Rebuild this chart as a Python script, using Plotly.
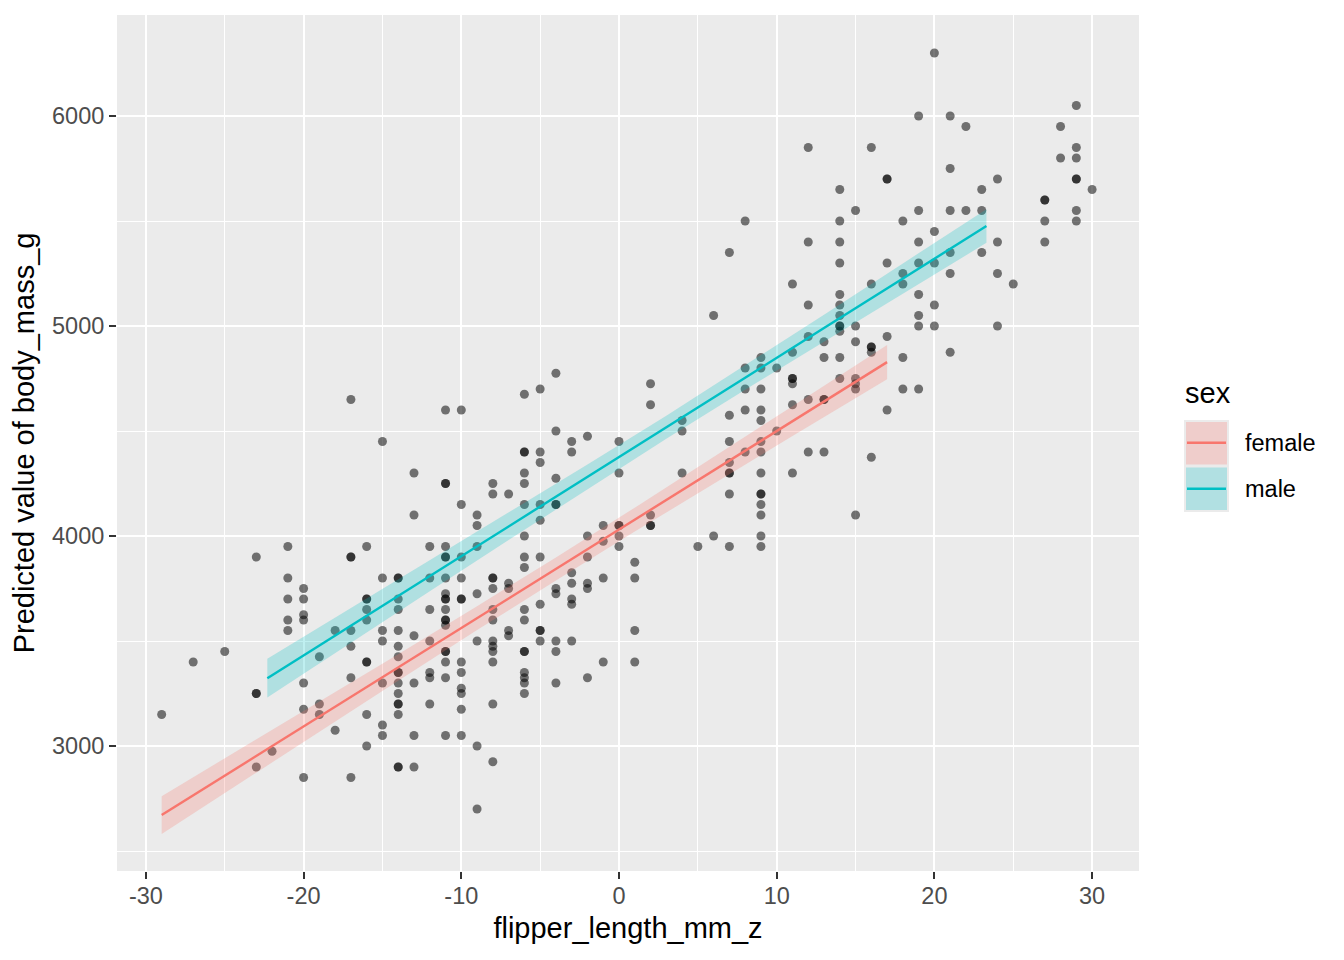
import plotly.graph_objects as go

# ---------------- data ----------------
# observed points: flipper_length_mm_z column value -> body_mass_g values in that column
flipper_cols = [-29, -27, -25, -23, -22, -21, -20, -19, -18, -17, -16, -15, -14, -13, -12,
                -11, -10, -9, -8, -7, -6, -5, -4, -3, -2, -1, 0, 1, 2, 4, 5, 6, 7, 8, 9,
                10, 11, 12, 13, 14, 15, 16, 17, 18, 19, 20, 21, 22, 23, 24, 25, 27, 28, 29, 30]
mass_cols = [
    [3150],
    [3400],
    [3450],
    [3900, 3250, 3250, 2900],
    [2975],
    [3950, 3800, 3700, 3600, 3550],
    [3750, 3700, 3625, 3600, 3300, 3175, 2850],
    [3425, 3200, 3150],
    [3550, 3075],
    [4650, 3900, 3900, 3550, 3475, 3325, 2850],
    [3950, 3700, 3700, 3650, 3600, 3400, 3400, 3150, 3000],
    [4450, 3800, 3550, 3500, 3300, 3100, 3050],
    [3800, 3800, 3700, 3650, 3550, 3475, 3425, 3350, 3350, 3300, 3250, 3200, 3200, 3150, 2900, 2900],
    [4300, 4100, 3525, 3300, 3050, 2900],
    [3950, 3800, 3650, 3500, 3350, 3325, 3200],
    [4600, 4250, 4250, 3950, 3900, 3900, 3800, 3725, 3700, 3700, 3650, 3600, 3600, 3575, 3450, 3450, 3400, 3325, 3050],
    [4600, 4150, 3900, 3800, 3700, 3700, 3400, 3350, 3275, 3250, 3175, 3050],
    [4100, 4050, 3950, 3725, 3500, 3000, 2700],
    [4250, 4200, 3800, 3800, 3750, 3650, 3600, 3500, 3475, 3450, 3400, 3200, 2925],
    [4200, 3775, 3750, 3550, 3525],
    [4675, 4400, 4400, 4300, 4250, 4150, 4000, 3900, 3850, 3650, 3600, 3450, 3450, 3350, 3325, 3300, 3250],
    [4700, 4400, 4350, 4150, 4075, 3900, 3675, 3550, 3550, 3500],
    [4775, 4500, 4275, 4150, 4150, 3750, 3725, 3500, 3450, 3300],
    [4450, 4400, 3825, 3775, 3700, 3675, 3500],
    [4475, 4000, 3900, 3775, 3750, 3325],
    [4050, 3975, 3800, 3400],
    [4450, 4300, 4050, 4050, 4000, 3950],
    [3875, 3800, 3550, 3400],
    [4725, 4625, 4100, 4050, 4050],
    [4550, 4500, 4300],
    [3950],
    [5050, 4000],
    [5350, 4575, 4450, 4350, 4300, 4300, 4200, 3950],
    [5500, 4800, 4700, 4600, 4400],
    [4850, 4800, 4700, 4600, 4550, 4450, 4400, 4300, 4200, 4200, 4150, 4100, 4000, 3950],
    [4800, 4500],
    [5200, 4875, 4750, 4750, 4725, 4625, 4300],
    [5850, 5400, 5100, 4950, 4650, 4400],
    [4925, 4850, 4650, 4650, 4400],
    [5650, 5500, 5400, 5300, 5150, 5100, 5050, 5000, 5000, 4975, 4850, 4750],
    [5550, 5000, 4925, 4750, 4725, 4700, 4100],
    [5850, 5200, 4900, 4900, 4875, 4375],
    [5700, 5700, 5300, 4950, 4600],
    [5500, 5250, 5200, 4850, 4700],
    [6000, 5550, 5400, 5300, 5150, 5050, 5000, 4700],
    [6300, 5450, 5300, 5100, 5000],
    [6000, 5750, 5550, 5350, 5250, 4875],
    [5950, 5550],
    [5650, 5550, 5350],
    [5700, 5400, 5250, 5000],
    [5200],
    [5600, 5600, 5500, 5400],
    [5950, 5800],
    [6050, 5850, 5800, 5700, 5700, 5550, 5500],
    [5650],
]

# predicted values with confidence band
female_x = [-29, -24, -19, -14, -9, -4, 1, 6, 11, 17]
female_pred = [2671, 2905, 3140, 3374, 3609, 3843, 4078, 4312, 4547, 4828]
female_lo = [2581, 2825, 3069, 3311, 3552, 3788, 4021, 4249, 4476, 4746]
female_hi = [2761, 2985, 3211, 3437, 3666, 3898, 4135, 4375, 4618, 4910]

male_x = [-22.3, -17, -12, -7, -2, 3, 8, 13, 18, 23.3]
male_pred = [3323, 3574, 3810, 4046, 4282, 4518, 4754, 4990, 5226, 5476]
male_lo = [3231, 3492, 3737, 3981, 4224, 4463, 4696, 4926, 5154, 5396]
male_hi = [3415, 3656, 3883, 4111, 4340, 4573, 4812, 5054, 5298, 5556]

x_ticks = [-30, -20, -10, 0, 10, 20, 30]
y_ticks = [3000, 4000, 5000, 6000]

FEMALE = "#F8766D"
MALE = "#00BFC4"
FONT = "Liberation Sans, Arial, Helvetica, sans-serif"

# ---------------- figure ----------------
OFF = 8                      # page body margin
W, H = 1344 - 2 * OFF, 960 - 2 * OFF
# panel edges in page pixels (reference)
PL, PR, PT, PB = 117, 1139, 15, 871
L, R, T, B = PL - OFF, PR - OFF, PT - OFF, PB - OFF

pts_x, pts_y = [], []
for xv, ms in zip(flipper_cols, mass_cols):
    pts_x += [xv] * len(ms)
    pts_y += ms

fig = go.Figure()
fig.add_trace(go.Scatter(x=pts_x, y=pts_y, mode="markers",
                         marker=dict(color="rgba(0,0,0,0.53)", size=9, line=dict(width=0)),
                         showlegend=False, hoverinfo="skip"))

for xs, lo, hi, pred, col, rgba in [
    (female_x, female_lo, female_hi, female_pred, FEMALE, "rgba(248,118,109,0.25)"),
    (male_x, male_lo, male_hi, male_pred, MALE, "rgba(0,191,196,0.25)"),
]:
    fig.add_trace(go.Scatter(x=xs + xs[::-1], y=hi + lo[::-1], fill="toself",
                             fillcolor=rgba, line=dict(width=0), mode="lines",
                             showlegend=False, hoverinfo="skip"))
    fig.add_trace(go.Scatter(x=xs, y=pred, mode="lines",
                             line=dict(color=col, width=2.4),
                             showlegend=False, hoverinfo="skip"))

xr = [(PL - 619) / 15.77, (PR - 619) / 15.77]
yr = [6000 - (PB - 116) / 0.21, 6000 + (116 - PT) / 0.21]

axis_common = dict(
    showline=False, zeroline=False,
    showgrid=True, gridcolor="white", gridwidth=2.2,
    ticks="outside", ticklen=7, tickwidth=2, tickcolor="#333333",
    tickfont=dict(family=FONT, size=23.5, color="#4D4D4D"),
)

fig.update_xaxes(range=xr, tickvals=x_ticks, ticktext=[str(v) for v in x_ticks],
                 minor=dict(dtick=5, tick0=0, showgrid=True, gridcolor="white", gridwidth=1.1, ticks=""),
                 ticklabelstandoff=-3,
                 title=dict(text="flipper_length_mm_z", font=dict(family=FONT, size=29, color="black"), standoff=9),
                 **axis_common)
fig.update_yaxes(range=yr, tickvals=y_ticks, ticktext=[str(v) for v in y_ticks],
                 minor=dict(dtick=500, tick0=0, showgrid=True, gridcolor="white", gridwidth=1.1, ticks=""),
                 title=dict(text="Predicted value of body_mass_g", font=dict(family=FONT, size=29, color="black"), standoff=9),
                 **axis_common)


def px(xp):
    # page pixel -> paper x
    return (xp - PL) / (PR - PL)


def py(yp):
    # page pixel -> paper y
    return (PB - yp) / (PB - PT)


shapes = []
annotations = []
# legend keys
shapes.append(dict(type="rect", xref="paper", yref="paper", x0=px(1184), x1=px(1229), y0=py(512), y1=py(420),
                   fillcolor="#EBEBEB", line=dict(width=0), layer="above"))
for (y0, y1, fillc, col, ly) in [(422, 464.5, "rgb(239,205,203)", FEMALE, 442.7),
                                 (467.5, 510, "rgb(177,224,226)", MALE, 488.7)]:
    shapes.append(dict(type="rect", xref="paper", yref="paper", x0=px(1186), x1=px(1227), y0=py(y1), y1=py(y0),
                       fillcolor=fillc, line=dict(width=0), layer="above"))
    shapes.append(dict(type="line", xref="paper", yref="paper", x0=px(1187), x1=px(1226), y0=py(ly), y1=py(ly),
                       line=dict(color=col, width=2.4), layer="above"))

annotations.append(dict(text="sex", xref="paper", yref="paper", x=px(1183), y=py(393), xanchor="left",
                        yanchor="middle", showarrow=False, font=dict(family=FONT, size=29, color="black")))
annotations.append(dict(text="female", xref="paper", yref="paper", x=px(1243), y=py(443), xanchor="left",
                        yanchor="middle", showarrow=False, font=dict(family=FONT, size=23.5, color="black")))
annotations.append(dict(text="male", xref="paper", yref="paper", x=px(1243), y=py(489), xanchor="left",
                        yanchor="middle", showarrow=False, font=dict(family=FONT, size=23.5, color="black")))

fig.update_layout(
    width=W, height=H,
    margin=dict(l=L, r=W - R, t=T, b=H - B, autoexpand=False),
    paper_bgcolor="white", plot_bgcolor="#EBEBEB",
    showlegend=False,
    shapes=shapes, annotations=annotations,
    font=dict(family=FONT),
)

fig.write_html("out.html")
